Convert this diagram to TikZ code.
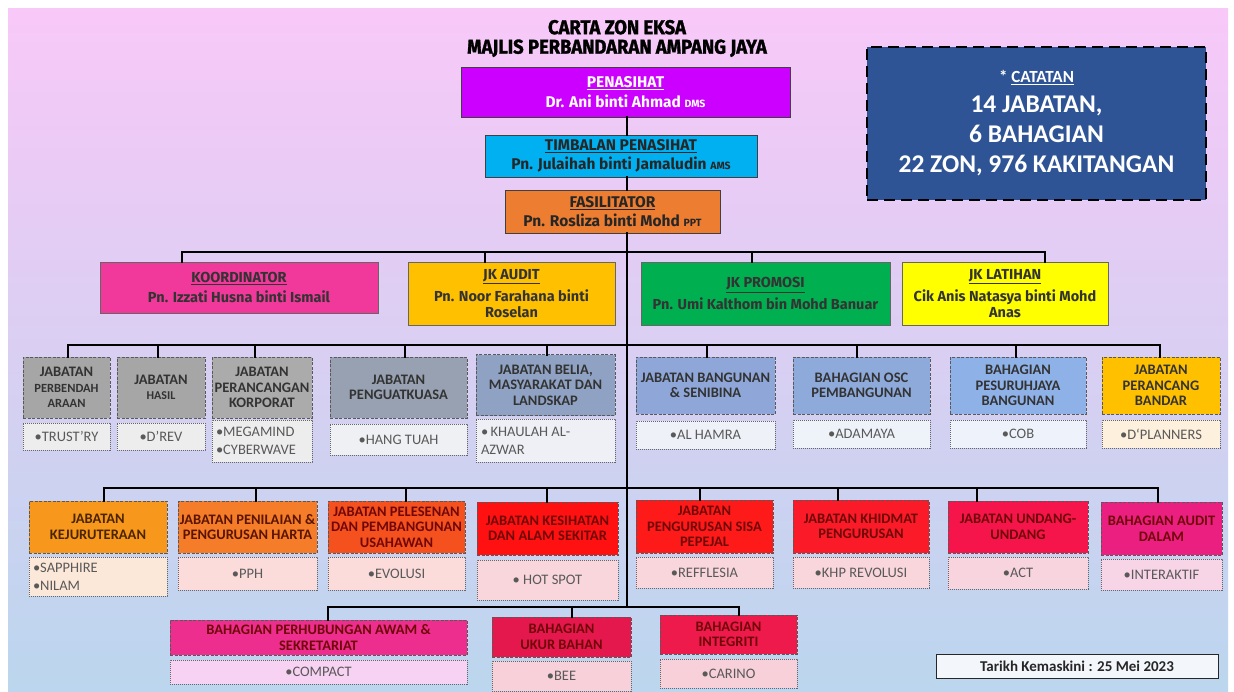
\documentclass[tikz,border=0pt]{standalone}
\usepackage{fontspec}
\setmainfont{Carlito}
\newfontfamily\headfont{Fira Sans}
\newfontfamily\titlefont{Fira Sans}[FakeStretch=0.92,FakeBold=1.5]
\usepackage{tikz}

\definecolor{bgtop}{HTML}{F8C8F8}
\definecolor{bgmid}{HTML}{DCD4F4}
\definecolor{bgbot}{HTML}{BBD6EE}
\definecolor{cPen}{HTML}{CC00FF}
\definecolor{cTim}{HTML}{00B0F0}
\definecolor{cFas}{HTML}{ED7D31}
\definecolor{cKoor}{HTML}{F0399B}
\definecolor{cAudit}{HTML}{FFC000}
\definecolor{cPromo}{HTML}{00B050}
\definecolor{cLatih}{HTML}{FFFF00}
\definecolor{cCat}{HTML}{2F5496}
\definecolor{txtRed}{HTML}{700808}

\newcommand{\gelar}[1]{{\fontsize{10.5}{11}\selectfont #1}}

\begin{document}
\begin{tikzpicture}
  [x=1pt,y=-1pt,every node/.style={inner sep=0pt,outer sep=0pt,align=center},
   topbox/.style={draw=black!75,line width=0.8pt,font=\headfont\bfseries\fontsize{15.5}{17}\selectfont},
   coordbox/.style={draw=black!60,line width=0.8pt,text=black!80,font=\headfont\bfseries\fontsize{14.5}{16}\selectfont},
   dept/.style={draw=black!65,line width=0.9pt,dash pattern=on 3pt off 1.5pt,text=black!80,font=\bfseries\fontsize{14.5}{15.5}\selectfont},
   zone/.style={draw=black!60,line width=0.7pt,dash pattern=on 1.2pt off 0.8pt,text=black!65,font=\fontsize{14.5}{18}\selectfont},
   link/.style={line width=2.2pt,black,line cap=rect}]

  % bingkai dan latar
  \useasboundingbox (0,0) rectangle (1234,691);
  \fill[white] (0,0) rectangle (1234,691);
  \shade[top color=bgtop,middle color=bgmid,bottom color=bgbot] (8,8) rectangle (1228,691);

  \node[font=\titlefont\bfseries\fontsize{20}{19.5}\selectfont] (tajuk) at (617,38.5) {CARTA ZON EKSA\\MAJLIS PERBANDARAN AMPANG JAYA};

  \node[topbox,fill=cPen,text=white,minimum width=329,minimum height=50] (pen) at (625.5,92) {\underline{PENASIHAT}\\[3pt]Dr. Ani binti Ahmad \gelar{DMS}};
  \node[topbox,fill=cTim,text=black!85,minimum width=272,minimum height=42] (tim) at (621,156) {\underline{TIMBALAN PENASIHAT}\\[2pt]Pn. Julaihah binti Jamaludin \gelar{AMS}};
  \node[topbox,fill=cFas,text=black!85,minimum width=215,minimum height=43] (fas) at (612.5,211.5) {\underline{FASILITATOR}\\[2pt]Pn. Rosliza binti Mohd \gelar{PPT}};

  \node[draw=black,line width=2pt,dash pattern=on 11pt off 6pt,fill=cCat,text=white,
        font=\bfseries\fontsize{25.5}{30}\selectfont,minimum width=339,minimum height=153] (catatan) at (1036.5,123.5)
        {{\fontsize{17}{20}\selectfont * \underline{CATATAN}}\\14 JABATAN,\\6 BAHAGIAN\\22 ZON, 976 KAKITANGAN};

  % jawatankuasa
  \node[coordbox,fill=cKoor,minimum width=278,minimum height=51] (koor) at (239,287.5) {\underline{KOORDINATOR}\\[4pt]Pn. Izzati Husna binti Ismail};
  \node[coordbox,fill=cAudit,minimum width=207,minimum height=63] (audit) at (511.5,293.5) {\underline{JK AUDIT}\\[4pt]Pn. Noor Farahana binti\\Roselan};
  \node[coordbox,fill=cPromo,minimum width=249,minimum height=63] (promo) at (765.5,293.5) {\underline{JK PROMOSI}\\[4pt]Pn. Umi Kalthom bin Mohd Banuar};
  \node[coordbox,fill=cLatih,minimum width=206,minimum height=63] (latih) at (1005,293.5) {\underline{JK LATIHAN}\\[4pt]Cik Anis Natasya binti Mohd\\Anas};

  % baris 1
  \node[dept,fill={rgb,255:red,166;green,166;blue,166},minimum width=87,minimum height=61] (perb) at (66.5,387.5) {JABATAN\\{\fontsize{12.5}{15}\selectfont PERBENDAH}\\{\fontsize{12.5}{15}\selectfont ARAAN}};
  \node[dept,fill={rgb,255:red,166;green,166;blue,166},minimum width=88,minimum height=61] (hasil) at (161,387.5) {JABATAN\\{\fontsize{12}{15}\selectfont HASIL}};
  \node[dept,fill={rgb,255:red,171;green,171;blue,171},minimum width=100,minimum height=61] (korp) at (262,387.5) {JABATAN\\PERANCANGAN\\KORPORAT};
  \node[dept,fill={rgb,255:red,151;green,161;blue,177},minimum width=137,minimum height=61] (penguat) at (398.5,387.5) {JABATAN\\PENGUATKUASA};
  \node[dept,fill={rgb,255:red,143;green,162;blue,195},minimum width=139,minimum height=61] (belia) at (545.5,385) {JABATAN BELIA,\\MASYARAKAT DAN\\LANDSKAP};
  \node[dept,fill={rgb,255:red,142;green,167;blue,216},minimum width=139,minimum height=57] (bangun) at (705.5,385.5) {JABATAN BANGUNAN\\\& SENIBINA};
  \node[dept,fill={rgb,255:red,142;green,170;blue,219},minimum width=137,minimum height=57] (osc) at (861.5,385.5) {BAHAGIAN OSC\\PEMBANGUNAN};
  \node[dept,fill={rgb,255:red,142;green,177;blue,232},minimum width=136,minimum height=57] (pesur) at (1018,385.5) {BAHAGIAN\\PESURUHJAYA\\BANGUNAN};
  \node[dept,fill=cAudit,minimum width=118,minimum height=57] (bandar) at (1161,385.5) {JABATAN\\PERANCANG\\BANDAR};

  \node[zone,fill={rgb,255:red,237;green,237;blue,237},minimum width=87,minimum height=27] (perb-z) at (66.5,436.5) {•TRUST’RY};
  \node[zone,fill={rgb,255:red,237;green,237;blue,237},minimum width=88,minimum height=27] (hasil-z) at (161,436.5) {•D’REV};
  \node[zone,fill={rgb,255:red,237;green,237;blue,237},inner xsep=4pt,text width=92,align=flush left,minimum height=42] (korp-z) at (262,441) {•MEGAMIND\\•CYBERWAVE};
  \node[zone,fill={rgb,255:red,238;green,240;blue,243},minimum width=137,minimum height=31] (penguat-z) at (398.5,439.5) {•HANG TUAH};
  \node[zone,fill={rgb,255:red,238;green,240;blue,245},inner xsep=5pt,text width=129,align=flush left,minimum height=43] (belia-z) at (545.5,440.5) {•\,KHAULAH AL-\\AZWAR};
  \node[zone,fill={rgb,255:red,238;green,241;blue,248},minimum width=139,minimum height=28] (bangun-z) at (705.5,435) {•AL HAMRA};
  \node[zone,fill={rgb,255:red,238;green,242;blue,249},minimum width=137,minimum height=28] (osc-z) at (861.5,434) {•ADAMAYA};
  \node[zone,fill={rgb,255:red,237;green,242;blue,251},minimum width=136,minimum height=28] (pesur-z) at (1018,434) {•COB};
  \node[zone,fill={rgb,255:red,253;green,240;blue,220},minimum width=118,minimum height=28] (bandar-z) at (1161,434) {•D‘PLANNERS};

  % baris 2
  \node[dept,fill={rgb,255:red,247;green,152;blue,29},text={rgb,255:red,74;green,37;blue,0},minimum width=138,minimum height=52] (keju) at (98,527) {JABATAN\\KEJURUTERAAN};
  \node[dept,fill={rgb,255:red,245;green,125;blue,42},text={rgb,255:red,90;green,20;blue,0},minimum width=139,minimum height=52] (penil) at (247.5,527) {JABATAN PENILAIAN \&\\PENGURUSAN HARTA};
  \node[dept,fill={rgb,255:red,244;green,81;blue,31},text=txtRed,minimum width=137,minimum height=52] (peles) at (396.5,527) {JABATAN PELESENAN\\DAN PEMBANGUNAN\\USAHAWAN};
  \node[dept,fill={rgb,255:red,255;green,17;blue,17},text=txtRed,minimum width=141,minimum height=53] (kesih) at (547.5,528.5) {JABATAN KESIHATAN\\DAN ALAM SEKITAR};
  \node[dept,fill={rgb,255:red,255;green,26;blue,26},text=txtRed,minimum width=137,minimum height=53] (sisa) at (704.5,526.5) {JABATAN\\PENGURUSAN SISA\\PEPEJAL};
  \node[dept,fill={rgb,255:red,251;green,26;blue,40},text=txtRed,minimum width=136,minimum height=53] (khid) at (861,526.5) {JABATAN KHIDMAT\\PENGURUSAN};
  \node[dept,fill={rgb,255:red,245;green,21;blue,75},text=txtRed,minimum width=140,minimum height=52] (undang) at (1018,527) {JABATAN UNDANG-\\UNDANG};
  \node[dept,fill={rgb,255:red,235;green,31;blue,128},text=txtRed,minimum width=121,minimum height=53] (adalam) at (1161.5,528.5) {BAHAGIAN AUDIT\\DALAM};

  \node[zone,fill={rgb,255:red,252;green,232;blue,216},inner xsep=4pt,text width=130,align=flush left,minimum height=39] (keju-z) at (98,576.5) {•SAPPHIRE\\•NILAM};
  \node[zone,fill={rgb,255:red,251;green,220;blue,219},minimum width=139,minimum height=33] (penil-z) at (247.5,573.5) {•PPH};
  \node[zone,fill={rgb,255:red,251;green,220;blue,219},minimum width=137,minimum height=33] (peles-z) at (396.5,573.5) {•EVOLUSI};
  \node[zone,fill={rgb,255:red,249;green,214;blue,220},minimum width=141,minimum height=40] (kesih-z) at (547.5,580) {• HOT SPOT};
  \node[zone,fill={rgb,255:red,249;green,214;blue,220},minimum width=137,minimum height=31] (sisa-z) at (704.5,572.5) {•REFFLESIA};
  \node[zone,fill={rgb,255:red,249;green,214;blue,220},minimum width=136,minimum height=31] (khid-z) at (861,572.5) {•KHP REVOLUSI};
  \node[zone,fill={rgb,255:red,248;green,212;blue,223},minimum width=140,minimum height=32] (undang-z) at (1018,573) {•ACT};
  \node[zone,fill={rgb,255:red,247;green,212;blue,230},minimum width=121,minimum height=31] (adalam-z) at (1161.5,574.5) {•INTERAKTIF};

  % baris 3
  \node[dept,fill={rgb,255:red,238;green,46;blue,142},text=txtRed,minimum width=297,minimum height=35] (perhub) at (318.5,637.5) {BAHAGIAN PERHUBUNGAN AWAM \&\\SEKRETARIAT};
  \node[dept,fill={rgb,255:red,229;green,24;blue,78},text=txtRed,minimum width=139,minimum height=40] (ukur) at (561.5,637) {BAHAGIAN\\UKUR BAHAN};
  \node[dept,fill={rgb,255:red,238;green,26;blue,76},text=txtRed,minimum width=137,minimum height=39] (integ) at (728.5,634.5) {BAHAGIAN\\INTEGRITI};

  \node[zone,fill={rgb,255:red,248;green,210;blue,242},minimum width=297,minimum height=24] (perhub-z) at (318.5,672) {•COMPACT};
  \node[zone,fill={rgb,255:red,247;green,208;blue,218},minimum width=139,minimum height=30] (ukur-z) at (561.5,676) {•BEE};
  \node[zone,fill={rgb,255:red,247;green,208;blue,218},minimum width=137,minimum height=29] (integ-z) at (728.5,673.5) {•CARINO};

  \node[draw=black!85,line width=1pt,fill={rgb,255:red,243;green,246;blue,251},font=\bfseries\fontsize{15}{16}\selectfont,text=black!85,
        minimum width=282,minimum height=24] (tarikh) at (1077,666) {Tarikh Kemaskini : 25 Mei 2023};

  % garisan
  \coordinate (trunk) at (627,607);
  \coordinate (busA-w) at (182,252);  \coordinate (busA-e) at (1045,252);
  \coordinate (busB-w) at (68,345);   \coordinate (busB-e) at (1160,345);
  \coordinate (busC-w) at (104,488);  \coordinate (busC-e) at (1158,488);
  \coordinate (busD-w) at (328,607);  \coordinate (busD-e) at (739,607);

  \draw[link] (pen.south -| trunk) -- (tim.north -| trunk);
  \draw[link] (tim.south -| trunk) -- (fas.north -| trunk);
  \draw[link] (fas.south -| trunk) -- (trunk);

  \foreach \from/\to in {busA-w/busA-e,busB-w/busB-e,busC-w/busC-e,busD-w/busD-e}
    \draw[link] (\from) -- (\to);

  \foreach \n/\x in {koor/182,audit/485,promo/752,latih/1045}
    \draw[link] (busA-w -| \x,0) -- (\n.north -| \x,0);
  \foreach \n/\x in {perb/68,hasil/158,korp/255,penguat/405,belia/547,bangun/707,osc/857,pesur/1016,bandar/1160}
    \draw[link] (busB-w -| \x,0) -- (\n.north -| \x,0);
  \foreach \n/\x in {keju/104,penil/256,peles/406,kesih/547,sisa/700,khid/838,undang/977,adalam/1158}
    \draw[link] (busC-w -| \x,0) -- (\n.north -| \x,0);
  \foreach \n/\x in {perhub/328,ukur/572,integ/739}
    \draw[link] (busD-w -| \x,0) -- (\n.north -| \x,0);

\end{tikzpicture}
\end{document}
